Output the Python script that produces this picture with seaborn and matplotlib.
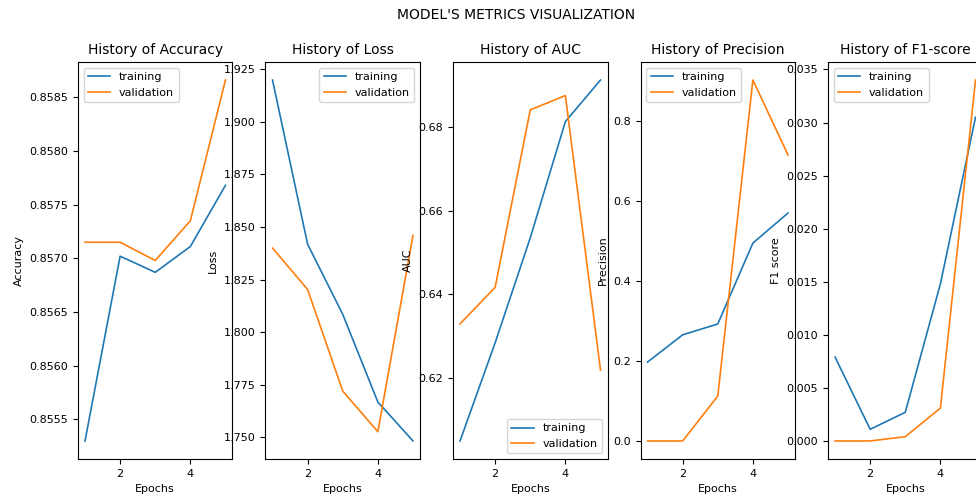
import pandas as pd
import matplotlib
matplotlib.use("Agg")
import matplotlib.pyplot as plt
import seaborn as sns

epochs = [1, 2, 3, 4, 5]

acc_train = [0.85530, 0.85702, 0.85687, 0.85711, 0.85768]
acc_val = [0.85715, 0.85715, 0.85698, 0.85735, 0.85866]

loss_train = [1.9199, 1.8418, 1.8085, 1.7668, 1.7483]
loss_val = [1.8400, 1.8203, 1.7720, 1.7527, 1.8460]

auc_train = [0.6051, 0.6285, 0.6535, 0.6812, 0.6911]
auc_val = [0.6330, 0.6417, 0.6840, 0.6874, 0.6220]

prec_train = [0.197, 0.265, 0.292, 0.494, 0.569]
prec_val = [0.000, 0.000, 0.112, 0.901, 0.714]

f1_train = [0.0079, 0.0011, 0.0027, 0.0148, 0.0305]
f1_val = [0.0000, 0.0000, 0.0004, 0.0031, 0.0340]

metrics = [
    ("History of Accuracy", "Accuracy", acc_train, acc_val, "upper left"),
    ("History of Loss", "Loss", loss_train, loss_val, "upper right"),
    ("History of AUC", "AUC", auc_train, auc_val, "lower right"),
    ("History of Precision", "Precision", prec_train, prec_val, "upper left"),
    ("History of F1-score", "F1 score", f1_train, f1_val, "upper left"),
]

plt.rcParams["font.size"] = 8
plt.rcParams["font.family"] = ["DejaVu Sans"]

fig, axes = plt.subplots(1, 5, figsize=(9.76, 4.96), dpi=100)
fig.subplots_adjust(left=0.0799, right=1.0067, top=0.875, bottom=0.0746, wspace=0.2136)
fig.suptitle("MODEL'S METRICS VISUALIZATION", fontsize=10, x=0.5287, y=0.970, va="center")

palette = ["#1f77b4", "#ff7f0e"]

for ax, (titulo, ylabel, train, val, loc) in zip(axes, metrics):
    df = pd.DataFrame({
        "epoch": epochs * 2,
        "value": train + val,
        "split": ["training"] * len(epochs) + ["validation"] * len(epochs),
    })
    sns.lineplot(data=df, x="epoch", y="value", hue="split", palette=palette,
                 errorbar=None, linewidth=1.2, ax=ax)
    sns.move_legend(ax, loc, title=None, fontsize=8)
    ax.set_title(titulo, fontsize=10)
    ax.set_xlabel("Epochs")
    ax.set_ylabel(ylabel)
    ax.set_xticks([2, 4])

plt.savefig("out.png", dpi=100)
plt.close()
